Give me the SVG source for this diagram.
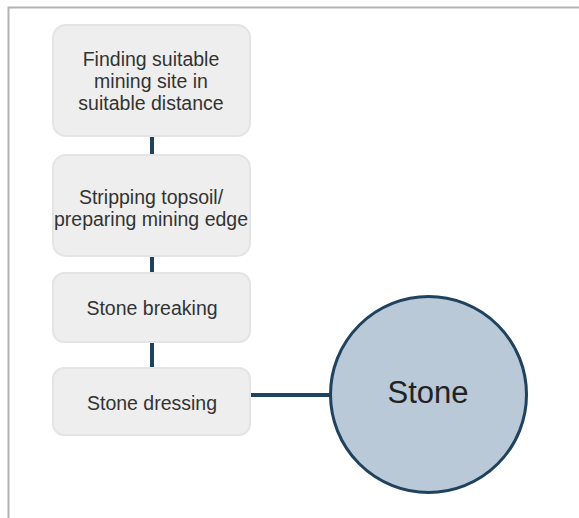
<svg xmlns="http://www.w3.org/2000/svg" width="579" height="518" viewBox="0 0 579 518">
<style>
.box{fill:#eeeeee;stroke:#e4e4e4;stroke-width:2}
.t{font-family:"Liberation Sans",Arial,sans-serif;font-size:19.5px;fill:#333333;text-anchor:middle}
.c{stroke:#1f425f;stroke-width:4;fill:none}
</style>
<rect width="579" height="518" fill="#ffffff"/>
<path d="M8.5 518 V7.5 H579" fill="none" stroke="#b3b3b3" stroke-width="2"/>
<g id="connectors">
<line class="c" x1="152" y1="136" x2="152" y2="155"/>
<line class="c" x1="152" y1="256" x2="152" y2="273"/>
<line class="c" x1="152" y1="342" x2="152" y2="368"/>
<line class="c" x1="250" y1="395" x2="330" y2="395"/>
</g>
<g id="n1">
<rect class="box" x="53" y="25" width="197" height="111" rx="13"/>
<text class="t" x="151" y="66">Finding suitable</text>
<text class="t" x="151" y="88">mining site in</text>
<text class="t" x="151" y="110">suitable distance</text>
</g>
<g id="n2">
<rect class="box" x="53" y="155" width="197" height="101" rx="13"/>
<text class="t" x="151" y="204">Stripping topsoil/</text>
<text class="t" x="151" y="226">preparing mining edge</text>
</g>
<g id="n3">
<rect class="box" x="53" y="273" width="197" height="69" rx="11"/>
<text class="t" x="152" y="315">Stone breaking</text>
</g>
<g id="n4">
<rect class="box" x="53" y="368" width="197" height="67" rx="11"/>
<text class="t" x="152" y="410">Stone dressing</text>
</g>
<g id="stone">
<circle cx="428.5" cy="394.5" r="98" fill="#b9c9d7" stroke="#1f425f" stroke-width="3"/>
<text x="428" y="403" font-family="'Liberation Sans',Arial,sans-serif" font-size="31" fill="#222222" text-anchor="middle">Stone</text>
</g>
</svg>
